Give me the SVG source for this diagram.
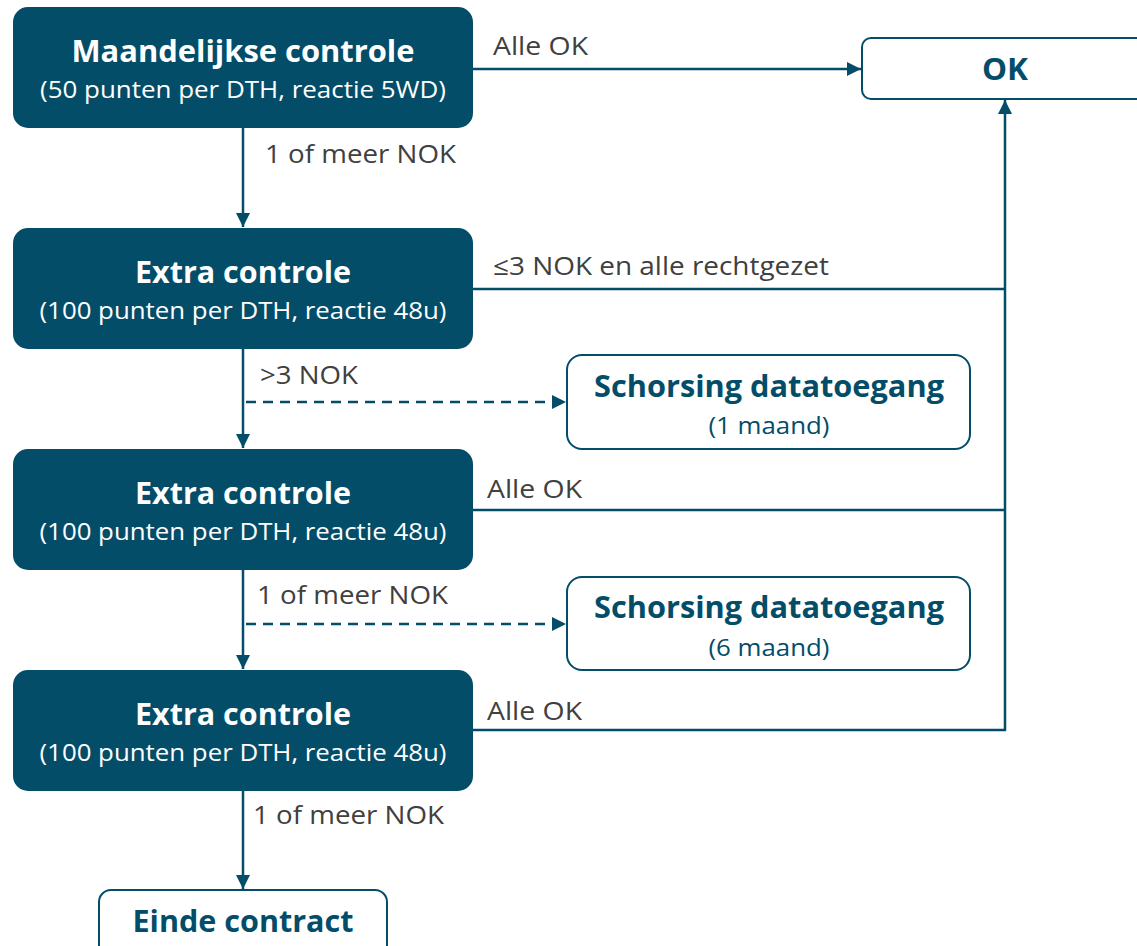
<svg xmlns="http://www.w3.org/2000/svg" width="1137" height="946" viewBox="0 0 1137 946">
<style>
.dark{fill:#034d69;}
.light{fill:#ffffff;stroke:#034d69;stroke-width:2;}
.t{font-family:"Open Sans","Noto Sans",sans-serif;text-anchor:middle;}
.tw{fill:#ffffff;}
.tb{fill:#034d69;}
.h{font-weight:bold;font-size:31px;}
.s{font-size:23px;}
.lbl{font-family:"Open Sans","Noto Sans",sans-serif;font-size:25px;fill:#404040;}
.ln{stroke:#034d69;stroke-width:2.5;fill:none;}
.dash{stroke-dasharray:10 7;}
</style>
<defs>
<marker id="ah" viewBox="0 0 10 10" refX="10" refY="5" markerWidth="6" markerHeight="5.6" orient="auto" markerUnits="strokeWidth">
<path d="M0,0 L10,5 L0,10 z" fill="#034d69"/>
</marker>
</defs>
<g id="connectors">
<line class="ln" x1="473" y1="69" x2="861" y2="69" marker-end="url(#ah)"/>
<text class="lbl" x="493" y="55" textLength="95" lengthAdjust="spacingAndGlyphs">Alle OK</text>
<line class="ln" x1="243" y1="128" x2="243" y2="227" marker-end="url(#ah)"/>
<text class="lbl" x="265" y="163" textLength="191" lengthAdjust="spacingAndGlyphs">1 of meer NOK</text>
<polyline class="ln" points="473,289 1005,289"/>
<text class="lbl" x="493" y="275" textLength="336" lengthAdjust="spacingAndGlyphs">≤3 NOK en alle rechtgezet</text>
<line class="ln" x1="1005" y1="731" x2="1005" y2="100" marker-end="url(#ah)"/>
<line class="ln" x1="243" y1="349" x2="243" y2="448" marker-end="url(#ah)"/>
<text class="lbl" x="260" y="384" textLength="98" lengthAdjust="spacingAndGlyphs">&gt;3 NOK</text>
<line class="ln dash" x1="246" y1="402" x2="566" y2="402" marker-end="url(#ah)"/>
<polyline class="ln" points="473,510 1005,510"/>
<text class="lbl" x="487" y="498" textLength="95" lengthAdjust="spacingAndGlyphs">Alle OK</text>
<line class="ln" x1="243" y1="570" x2="243" y2="669" marker-end="url(#ah)"/>
<text class="lbl" x="257" y="604" textLength="191" lengthAdjust="spacingAndGlyphs">1 of meer NOK</text>
<line class="ln dash" x1="246" y1="624" x2="566" y2="624" marker-end="url(#ah)"/>
<polyline class="ln" points="473,730 1006,730"/>
<text class="lbl" x="487" y="720" textLength="95" lengthAdjust="spacingAndGlyphs">Alle OK</text>
<line class="ln" x1="243" y1="791" x2="243" y2="889" marker-end="url(#ah)"/>
<text class="lbl" x="253" y="824" textLength="191" lengthAdjust="spacingAndGlyphs">1 of meer NOK</text>
</g>
<g id="maandelijkse">
<rect class="dark" x="13" y="7" width="460" height="121" rx="15"/>
<text class="t tw h" x="243" y="62" textLength="343" lengthAdjust="spacingAndGlyphs">Maandelijkse controle</text>
<text class="t tw s" x="243" y="98" textLength="406" lengthAdjust="spacingAndGlyphs">(50 punten per DTH, reactie 5WD)</text>
</g>
<g id="ok">
<rect class="light" x="862" y="38" width="290" height="61" rx="9"/>
<text class="t tb h" x="1005" y="80" textLength="46" lengthAdjust="spacingAndGlyphs">OK</text>
</g>
<g id="extra1">
<rect class="dark" x="13" y="228" width="460" height="121" rx="15"/>
<text class="t tw h" x="243" y="283" textLength="216" lengthAdjust="spacingAndGlyphs">Extra controle</text>
<text class="t tw s" x="243" y="319" textLength="407" lengthAdjust="spacingAndGlyphs">(100 punten per DTH, reactie 48u)</text>
</g>
<g id="schorsing1">
<rect class="light" x="567" y="355" width="403" height="94" rx="15"/>
<text class="t tb h" x="769" y="397" textLength="350" lengthAdjust="spacingAndGlyphs">Schorsing datatoegang</text>
<text class="t tb s" x="769" y="434" textLength="121" lengthAdjust="spacingAndGlyphs">(1 maand)</text>
</g>
<g id="extra2">
<rect class="dark" x="13" y="449" width="460" height="121" rx="15"/>
<text class="t tw h" x="243" y="504" textLength="216" lengthAdjust="spacingAndGlyphs">Extra controle</text>
<text class="t tw s" x="243" y="540" textLength="407" lengthAdjust="spacingAndGlyphs">(100 punten per DTH, reactie 48u)</text>
</g>
<g id="schorsing2">
<rect class="light" x="567" y="577" width="403" height="93" rx="15"/>
<text class="t tb h" x="769" y="618" textLength="350" lengthAdjust="spacingAndGlyphs">Schorsing datatoegang</text>
<text class="t tb s" x="769" y="656" textLength="121" lengthAdjust="spacingAndGlyphs">(6 maand)</text>
</g>
<g id="extra3">
<rect class="dark" x="13" y="670" width="460" height="121" rx="15"/>
<text class="t tw h" x="243" y="725" textLength="216" lengthAdjust="spacingAndGlyphs">Extra controle</text>
<text class="t tw s" x="243" y="761" textLength="407" lengthAdjust="spacingAndGlyphs">(100 punten per DTH, reactie 48u)</text>
</g>
<g id="einde">
<rect class="light" x="99" y="890" width="288" height="70" rx="12"/>
<text class="t tb h" x="243" y="932" textLength="221" lengthAdjust="spacingAndGlyphs">Einde contract</text>
</g>
</svg>
